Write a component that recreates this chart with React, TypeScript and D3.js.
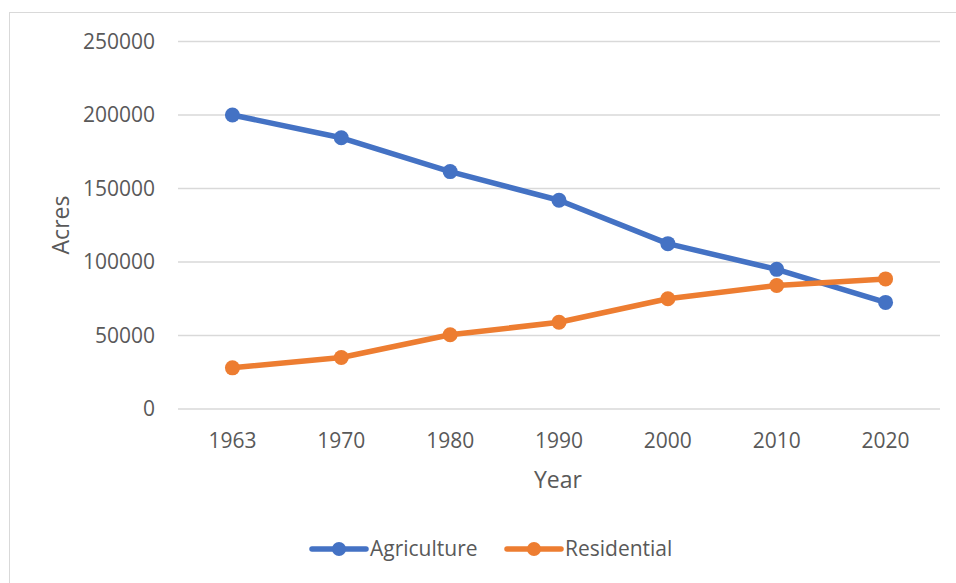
import React from "react";
import * as d3 from "d3";

const years = ["1963", "1970", "1980", "1990", "2000", "2010", "2020"];
const agriculture = [200000, 184500, 161500, 142000, 112500, 95000, 72500];
const residential = [28000, 35000, 50500, 59000, 75000, 84000, 88500];
const yTicks = [0, 50000, 100000, 150000, 200000, 250000];

const series = [
  { name: "Agriculture", values: agriculture, color: "#4472C4" },
  { name: "Residential", values: residential, color: "#ED7D31" },
];

const W = 956;
const H = 583;
const font = "'Open Sans', 'Noto Sans', sans-serif";
const textColor = "#595959";

const App: React.FC = () => {
  const x = d3.scaleBand<string>().domain(years).range([178, 940]);
  const y = d3.scaleLinear().domain([0, 250000]).range([409, 41.5]);
  const cx = (d: string) => (x(d) ?? 0) + x.bandwidth() / 2;

  const line = d3
    .line<number>()
    .x((_, i) => cx(years[i]))
    .y((v) => y(v));

  const legend = [
    { x: 312, textX: 370 },
    { x: 507, textX: 565 },
  ];

  return (
    <svg
      width={W}
      height={H}
      style={{ position: "absolute", left: 0, top: 0, background: "#fff" }}
    >
      <rect x={9.5} y={12.5} width={W + 10} height={H + 10} fill="#fff" stroke="#d9d9d9" />

      {yTicks.map((t) => (
        <g key={t}>
          <line x1={178} x2={940} y1={y(t)} y2={y(t)} stroke="#d9d9d9" strokeWidth={1.3} />
          <text
            x={155}
            y={y(t)}
            dy="0.35em"
            textAnchor="end"
            fontFamily={font}
            fontSize={21}
            fill={textColor}
          >
            {t}
          </text>
        </g>
      ))}

      {years.map((yr) => (
        <text
          key={yr}
          x={cx(yr)}
          y={448}
          textAnchor="middle"
          fontFamily={font}
          fontSize={21}
          fill={textColor}
        >
          {yr}
        </text>
      ))}

      <text x={558} y={488} textAnchor="middle" fontFamily={font} fontSize={23} fill={textColor}>
        Year
      </text>
      <text
        transform="translate(69,225) rotate(-90)"
        textAnchor="middle"
        fontFamily={font}
        fontSize={23}
        fill={textColor}
      >
        Acres
      </text>

      {series.map((s) => (
        <g key={s.name}>
          <path
            d={line(s.values) ?? ""}
            fill="none"
            stroke={s.color}
            strokeWidth={5.5}
            strokeLinejoin="round"
            strokeLinecap="round"
          />
          {s.values.map((v, i) => (
            <circle key={i} cx={cx(years[i])} cy={y(v)} r={7.5} fill={s.color} />
          ))}
        </g>
      ))}

      {series.map((s, i) => (
        <g key={s.name}>
          <line
            x1={legend[i].x}
            x2={legend[i].x + 54}
            y1={549}
            y2={549}
            stroke={s.color}
            strokeWidth={5.5}
            strokeLinecap="round"
          />
          <circle cx={legend[i].x + 27} cy={549} r={7} fill={s.color} />
          <text
            x={legend[i].textX}
            y={549}
            dy="0.35em"
            fontFamily={font}
            fontSize={21}
            fill={textColor}
          >
            {s.name}
          </text>
        </g>
      ))}
    </svg>
  );
};

export default App;
